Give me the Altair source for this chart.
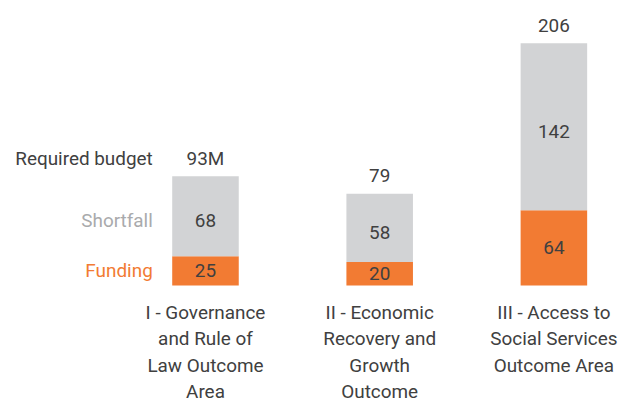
import altair as alt
import pandas as pd

categories = [
    "I - Governance|and Rule of|Law Outcome|Area",
    "II - Economic|Recovery and|Growth|Outcome",
    "III - Access to|Social Services|Outcome Area",
]
funding = [25, 20, 64]
shortfall = [68, 58, 142]
totals = [93, 79, 206]
total_labels = ["93M", "79", "206"]
side_labels = ["Required budget", "Shortfall", "Funding"]

ORANGE = "#F27B33"
GRAY = "#D2D3D5"
TEXT = "#404040"
SIDE_GRAY = "#A9AAAC"
FONT = "Roboto"
FS = 19

fund_df = pd.DataFrame({"cat": categories, "y0": [0] * 3, "y1": funding,
                        "mid": [f / 2 for f in funding], "val": [str(f) for f in funding],
                        "series": ["Funding"] * 3})
short_df = pd.DataFrame({"cat": categories, "y0": funding,
                         "y1": [f + s for f, s in zip(funding, shortfall)],
                         "mid": [f + s / 2 for f, s in zip(funding, shortfall)],
                         "val": [str(s) for s in shortfall], "series": ["Shortfall"] * 3})
df = pd.concat([fund_df, short_df], ignore_index=True)
tot = pd.DataFrame({"cat": categories, "total": totals, "label": total_labels})

xscale = alt.Scale(domain=categories, paddingInner=0.618, paddingOuter=0.2)
xenc = alt.X("cat:N", scale=xscale, sort=categories, title=None,
             axis=alt.Axis(labelExpr="split(datum.label, '|')", labelAngle=0,
                           domain=False, ticks=False, labelPadding=18,
                           labelFont=FONT, labelFontSize=FS, labelColor=TEXT,
                           labelLineHeight=26.5, labelBaseline="top", labelLimit=200))
xplain = alt.X("cat:N", scale=xscale, sort=categories)
yscale = alt.Scale(domain=[0, 231], nice=False)

bars = alt.Chart(df).mark_bar().encode(
    x=xenc,
    y=alt.Y("y0:Q", scale=yscale, axis=None, title=None),
    y2="y1:Q",
    color=alt.Color("series:N", scale=alt.Scale(domain=["Funding", "Shortfall"], range=[ORANGE, GRAY]), legend=None),
)

fund_vals = alt.Chart(fund_df).mark_text(font=FONT, fontSize=FS, color=TEXT, baseline="middle", dy=0).encode(
    x=xplain, y=alt.Y("mid:Q", scale=yscale), text="val:N")
short_vals = alt.Chart(short_df).mark_text(font=FONT, fontSize=FS, color=TEXT, baseline="middle", dy=5).encode(
    x=xplain, y=alt.Y("mid:Q", scale=yscale), text="val:N")

tots = alt.Chart(tot).mark_text(font=FONT, fontSize=FS, color=TEXT, baseline="middle", dy=-17).encode(
    x=xplain, y=alt.Y("total:Q", scale=yscale), text="label:N")

first = pd.DataFrame({"cat": [categories[0]], "total": [totals[0]],
                      "smid": [funding[0] + shortfall[0] / 2], "fmid": [funding[0] / 2],
                      "req": [side_labels[0]], "sh": [side_labels[1]], "fu": [side_labels[2]]})
side_req = alt.Chart(first).mark_text(font=FONT, fontSize=FS, baseline="middle", align="right",
                                      dx=-53, dy=-17, color=TEXT).encode(
    x=xplain, y=alt.Y("total:Q", scale=yscale), text="req:N")
side_sh = alt.Chart(first).mark_text(font=FONT, fontSize=FS, baseline="middle", align="right",
                                     dx=-53, dy=5, color=SIDE_GRAY).encode(
    x=xplain, y=alt.Y("smid:Q", scale=yscale), text="sh:N")
side_fu = alt.Chart(first).mark_text(font=FONT, fontSize=FS, baseline="middle", align="right",
                                     dx=-53, dy=0, color=ORANGE).encode(
    x=xplain, y=alt.Y("fmid:Q", scale=yscale), text="fu:N")

chart = alt.layer(bars, fund_vals, short_vals, tots, side_req, side_sh, side_fu).properties(
    width=487, height=273,
    background="white",
    autosize=alt.AutoSizeParams(type="none"),
    padding={"left": 130, "top": 5, "right": 0, "bottom": 116},
).configure_view(strokeWidth=0, stroke="transparent")

chart.save("out.html", embed_options={"renderer": "svg", "actions": False})
